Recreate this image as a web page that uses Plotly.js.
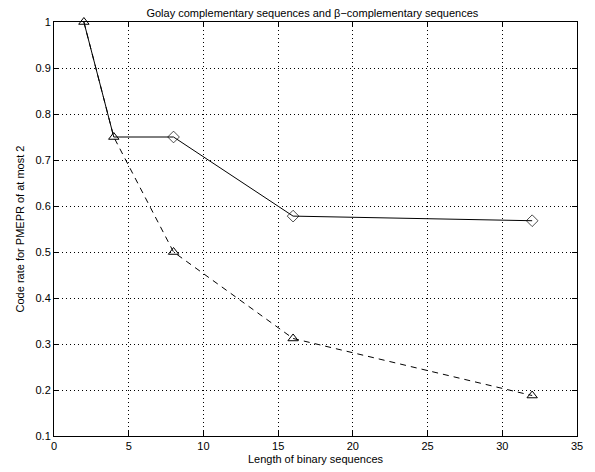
<!DOCTYPE html>
<html>
<head>
<meta charset="utf-8">
<script src="https://cdn.plot.ly/plotly-3.0.1.min.js"></script>
<style>html,body{margin:0;padding:0;background:#fff;}#chart{width:595px;height:472px;}</style>
</head>
<body>
<div id="chart"></div>
<script>
var lengths = [2, 4, 8, 16, 32];
var golayRate = [1.0, 0.75, 0.75, 0.578, 0.568];
var betaRate = [1.0, 0.75, 0.5, 0.312, 0.188];
var xTicks = [0, 5, 10, 15, 20, 25, 30, 35];
var yTicks = [0.1, 0.2, 0.3, 0.4, 0.5, 0.6, 0.7, 0.8, 0.9, 1];
var yTickText = ['0.1', '0.2', '0.3', '0.4', '0.5', '0.6', '0.7', '0.8', '0.9', '1'];

var font = {family: 'Arial, "Liberation Sans", sans-serif', size: 11, color: '#000'};

var traces = [
  {x: lengths, y: golayRate, mode: 'lines+markers', name: 'Golay', cliponaxis: false,
   line: {color: '#000', width: 1, dash: 'solid'},
   marker: {symbol: 'diamond-open', size: [0, 0, 9, 9, 9], color: '#000', line: {width: 1, color: '#000'}}},
  {x: lengths, y: betaRate, mode: 'lines+markers', name: 'beta', cliponaxis: false,
   line: {color: '#000', width: 1, dash: '6px,5px'},
   marker: {symbol: 'triangle-up-open', size: 9, color: '#000', line: {width: 1, color: '#000'}}}
];

var axisCommon = {
  showline: true, linecolor: '#000', linewidth: 1, mirror: 'ticks',
  ticks: 'inside', ticklen: 5, tickcolor: '#000', tickwidth: 1,
  showgrid: true, gridcolor: '#000', gridwidth: 1, griddash: '1px,3px',
  zeroline: false, tickfont: font
};

var layout = {
  width: 595, height: 472,
  margin: {l: 54, r: 18, t: 22, b: 36},
  paper_bgcolor: '#fff', plot_bgcolor: '#fff',
  showlegend: false,
  font: font,
  title: {text: 'Golay complementary sequences and β−complementary sequences',
          font: {family: font.family, size: 11, color: '#000'}, x: 0.525, xanchor: 'center', y: 0.973, yanchor: 'middle'},
  xaxis: Object.assign({}, axisCommon, {
    range: [0, 35], tickvals: xTicks, ticktext: xTicks.map(String),
    title: {text: 'Length of binary sequences', font: font, standoff: 4}
  }),
  yaxis: Object.assign({}, axisCommon, {
    range: [0.1, 1], tickvals: yTicks, ticktext: yTickText,
    title: {text: 'Code rate for PMEPR of at most 2', font: font, standoff: 8}
  })
};

Plotly.newPlot('chart', traces, layout, {displayModeBar: false, staticPlot: true});
</script>
</body>
</html>
